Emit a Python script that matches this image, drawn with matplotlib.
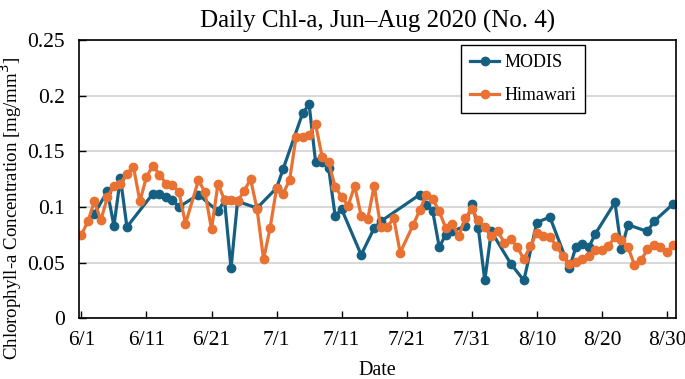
import matplotlib.pyplot as plt
import numpy as np

plt.rcParams['font.family'] = ['Liberation Serif', 'DejaVu Serif']

# day offsets from 6/1
modis_days = [2, 4, 5, 6, 7, 11, 12, 13, 14, 15, 18, 21, 22, 23, 24, 27, 30, 31,
              34, 35, 36, 37, 38, 39, 40, 43, 45, 46, 52, 53, 54, 55, 56, 57, 59,
              60, 61, 62, 63, 66, 68, 70, 72, 75, 76, 77, 78, 79, 82, 83, 84, 87,
              88, 91]
modis_vals = [0.094, 0.114, 0.083, 0.126, 0.082, 0.112, 0.112, 0.109, 0.106, 0.100,
              0.111, 0.096, 0.106, 0.045, 0.105, 0.099, 0.117, 0.134, 0.184, 0.192,
              0.140, 0.140, 0.135, 0.092, 0.098, 0.057, 0.081, 0.087, 0.111, 0.102,
              0.096, 0.064, 0.075, 0.078, 0.083, 0.103, 0.081, 0.034, 0.078, 0.049,
              0.034, 0.086, 0.091, 0.045, 0.064, 0.067, 0.064, 0.076, 0.104, 0.062,
              0.084, 0.078, 0.087, 0.103]

hima_days = list(range(0, 17)) + list(range(18, 50)) + list(range(51, 92))
hima_vals = [0.075, 0.087, 0.105, 0.088, 0.109, 0.119, 0.121, 0.130, 0.136, 0.105,
             0.127, 0.137, 0.129, 0.121, 0.120, 0.113, 0.085,
             0.124, 0.113, 0.080, 0.121, 0.106, 0.106, 0.105, 0.114, 0.125, 0.098,
             0.053, 0.081, 0.117, 0.112, 0.124, 0.163, 0.163, 0.165, 0.174, 0.145,
             0.140, 0.118, 0.109, 0.101, 0.119, 0.092, 0.089, 0.119, 0.082, 0.082,
             0.090, 0.059,
             0.084, 0.097, 0.111, 0.107, 0.096, 0.081, 0.085, 0.074, 0.090, 0.098,
             0.088, 0.082, 0.074, 0.078, 0.068, 0.071, 0.064, 0.053, 0.065, 0.077,
             0.074, 0.073, 0.065, 0.056, 0.049, 0.051, 0.053, 0.056, 0.061, 0.061,
             0.065, 0.073, 0.070, 0.064, 0.048, 0.052, 0.062, 0.066, 0.064, 0.060,
             0.066]

tick_days = [0, 10, 20, 30, 40, 50, 60, 70, 80, 90]
tick_labels = ['6/1', '6/11', '6/21', '7/1', '7/11', '7/21', '7/31', '8/10', '8/20', '8/30']

fig = plt.figure(figsize=(6.85, 3.79), dpi=100)
ax = fig.add_axes([0.115, 0.160, 0.872, 0.735])

ax.plot(modis_days, modis_vals, color='#156082', lw=2.3, marker='o', ms=6, label='MODIS')
ax.plot(hima_days, hima_vals, color='#E97132', lw=2.3, marker='o', ms=6, label='Himawari')

ax.set_xlim(-0.4, 91.4)
ax.set_ylim(0, 0.25)
ax.set_yticks(np.arange(0, 0.26, 0.05))
ax.set_yticklabels(['0', '0.05', '0.1', '0.15', '0.2', '0.25'])
ax.set_xticks(tick_days)
ax.set_xticklabels(tick_labels)
ax.tick_params(direction='in', labelsize=15.5, length=5, width=1)
ax.tick_params(axis='x', pad=9)
ax.tick_params(axis='y', pad=10)
ax.yaxis.grid(True, color='#d9d9d9', lw=1.5)
ax.set_axisbelow(True)
for s in ax.spines.values():
    s.set_color('black')
    s.set_linewidth(1.2)

ax.set_title('Daily Chl-a, Jun\u2013Aug 2020 (No. 4)', fontsize=18, pad=9)
ax.set_xlabel('Date', fontsize=14.5, labelpad=8)
ax.set_ylabel('Chlorophyll-a Concentration [mg/mm$^3$]', fontsize=13.6)
ax.yaxis.set_label_coords(-0.091, 0.395)

leg = ax.legend(loc='upper right', bbox_to_anchor=(0.848, 0.982), fontsize=13,
                fancybox=False, edgecolor='black', framealpha=1,
                handlelength=1.6, handletextpad=0.3, borderpad=0.5,
                labelspacing=0.9, borderaxespad=0)
leg.get_frame().set_linewidth(1.0)

fig.savefig('out.png', dpi=100)
